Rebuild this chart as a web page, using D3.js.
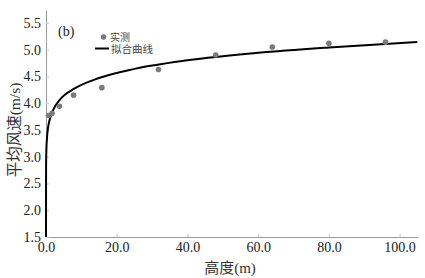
<!DOCTYPE html>
<html>
<head>
<meta charset="utf-8">
<script src="https://cdn.jsdelivr.net/npm/d3@7"></script>
<style>
  body { margin: 0; background: #fff; }
</style>
</head>
<body>
<div id="chart"></div>
<script>

// measured points
const heights = [0.7, 1.7, 3.8, 7.8, 15.8, 31.8, 48, 64, 80, 96];
const speeds = [3.77, 3.81, 3.94, 4.15, 4.29, 4.63, 4.90, 5.05, 5.12, 5.14];

// fitted curve, sampled by eye
const fitHeights = [0, 0.02, 0.1, 0.3, 0.6, 1, 2, 4, 8, 15, 25, 40, 60, 80, 105];
const fitSpeeds = [1.5, 2.78, 3.12, 3.37, 3.55, 3.68, 3.87, 4.07, 4.27, 4.47, 4.64, 4.80, 4.94, 5.04, 5.14];

// tick labels
const xTicks = [0, 20, 40, 60, 80, 100];
const yTicks = [1.5, 2.0, 2.5, 3.0, 3.5, 4.0, 4.5, 5.0, 5.5];

const width = 425, height = 278;
const margin = { top: 10, right: 7, bottom: 41, left: 46 };
const serif = '"Liberation Serif"';
const cjk = '"Noto Sans CJK SC"';

const svg = d3.select("#chart")
    .append("svg")
    .attr("width", width)
    .attr("height", height);

const x = d3.scaleLinear()
    .domain([0, 105.2])
    .range([margin.left, width - margin.right]);

const y = d3.scaleLinear()
    .domain([1.5, 5.74])
    .range([height - margin.bottom, margin.top]);

const axisColor = "#9a9a9a";
const textColor = "#222";

// x axis
const gx = svg.append("g")
    .attr("transform", `translate(0,${height - margin.bottom})`)
    .call(d3.axisBottom(x).tickValues(xTicks).tickFormat(d3.format(".1f"))
        .tickSizeInner(-3).tickSizeOuter(0).tickPadding(6));
gx.attr("font-family", null).attr("font-size", null);
gx.select(".domain").attr("stroke", axisColor);
gx.selectAll(".tick line").attr("stroke", "#c8c8c8");
gx.selectAll(".tick text")
    .attr("fill", textColor)
    .style("font-family", serif)
    .style("font-size", "14px")
    .attr("dy", "0.62em");

// y axis
const gy = svg.append("g")
    .attr("transform", `translate(${margin.left},0)`)
    .call(d3.axisLeft(y).tickValues(yTicks).tickFormat(d3.format(".1f"))
        .tickSizeInner(-3).tickSizeOuter(0).tickPadding(5));
gy.attr("font-family", null).attr("font-size", null);
gy.select(".domain").attr("stroke", axisColor);
gy.selectAll(".tick line").attr("stroke", "#c8c8c8");
gy.selectAll(".tick text")
    .attr("fill", textColor)
    .style("font-family", serif)
    .style("font-size", "14px");

// fitted curve
const line = d3.line()
    .x((d, i) => x(fitHeights[i]))
    .y(d => y(d))
    .curve(d3.curveMonotoneX);

svg.append("path")
    .datum(fitSpeeds)
    .attr("d", line)
    .attr("fill", "none")
    .attr("stroke", "#000")
    .attr("stroke-width", 2);

// measured points
svg.append("g")
    .selectAll("circle")
    .data(speeds)
    .join("circle")
    .attr("cx", (d, i) => x(heights[i]))
    .attr("cy", d => y(d))
    .attr("r", 2.8)
    .attr("fill", "#7a7a7a");

// panel label
svg.append("text")
    .attr("x", 58)
    .attr("y", 36)
    .attr("fill", textColor)
    .style("font-family", serif)
    .style("font-size", "14px")
    .text("(b)");

// legend
const legend = svg.append("g");

legend.append("circle")
    .attr("cx", 103.5)
    .attr("cy", 37)
    .attr("r", 2.8)
    .attr("fill", "#7a7a7a");
legend.append("text")
    .attr("x", 110)
    .attr("y", 40.5)
    .attr("fill", "#444")
    .style("font-family", cjk)
    .style("font-size", "10px")
    .text("实测");

legend.append("line")
    .attr("x1", 95).attr("x2", 109)
    .attr("y1", 48.5).attr("y2", 48.5)
    .attr("stroke", "#000")
    .attr("stroke-width", 2);
legend.append("text")
    .attr("x", 111)
    .attr("y", 52.5)
    .attr("fill", "#444")
    .style("font-family", cjk)
    .style("font-size", "10.5px")
    .text("拟合曲线");

// axis titles
const xTitle = svg.append("text")
    .attr("x", 230)
    .attr("y", 273)
    .attr("text-anchor", "middle")
    .attr("fill", "#333")
    .style("font-size", "15px");
xTitle.append("tspan").style("font-family", cjk).text("高度");
xTitle.append("tspan").style("font-family", serif).text("(m)");

const yTitle = svg.append("text")
    .attr("transform", "translate(20,130) rotate(-90)")
    .attr("text-anchor", "middle")
    .attr("fill", "#333")
    .style("font-size", "15.5px");
yTitle.append("tspan").style("font-family", cjk).text("平均风速");
yTitle.append("tspan").style("font-family", serif).text("(m/s)");
</script>
</body>
</html>
